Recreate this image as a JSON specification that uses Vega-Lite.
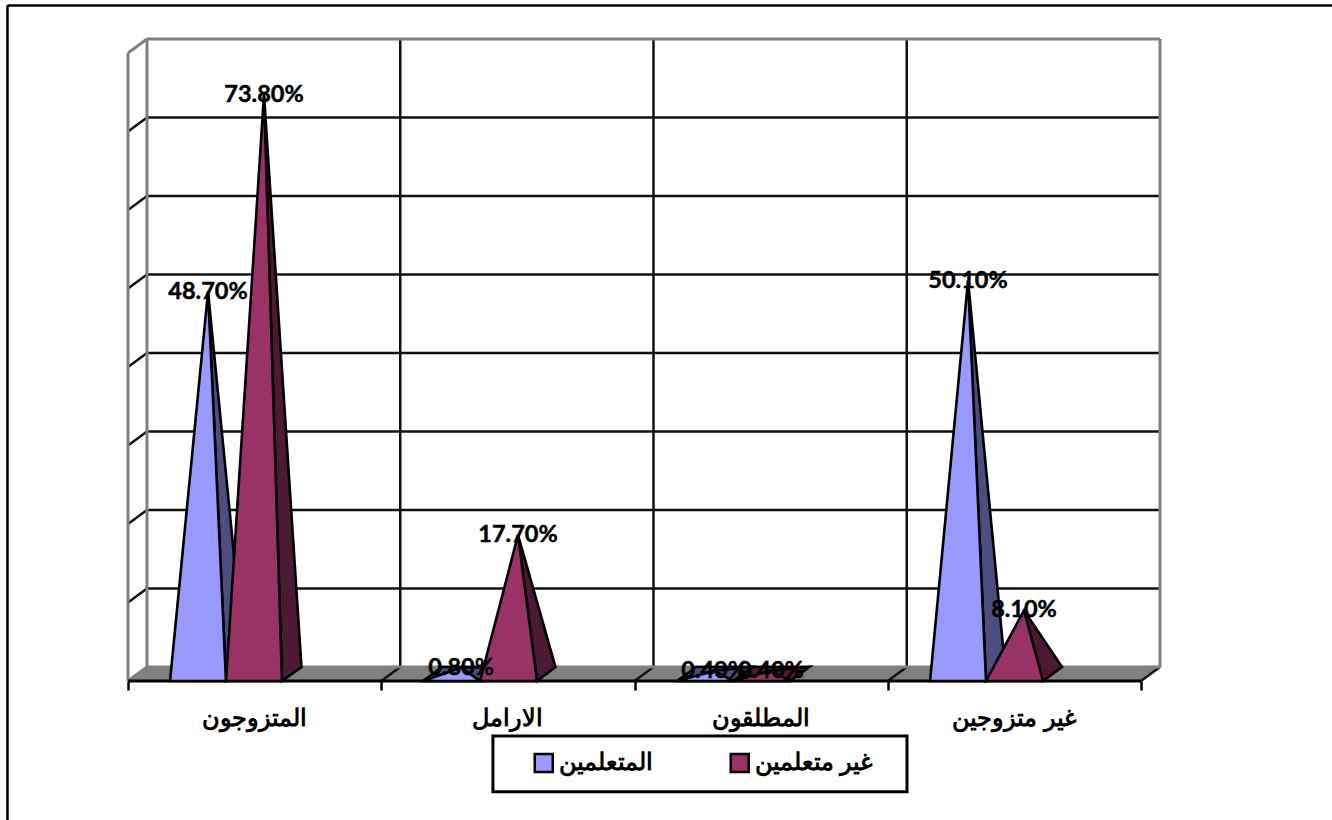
{
"$schema":"https://vega.github.io/schema/vega-lite/v6.json",
"width":1032,"height":642,
"autosize":{"type":"none"},
"padding":{"left":128,"top":39,"right":172,"bottom":139},
"background":"white",
"config":{"view":{"stroke":null}},
"datasets":{
"floor":[{"x":0,"y":-0.89,"y2":-0.89},{"x":0.075,"y":0.89,"y2":-0.89},{"x":4,"y":0.89,"y2":-0.89},{"x":4.075,"y":0.89,"y2":0.89}],
"walls":[
{"x":0.075,"y":0.89,"x2":0.075,"y2":80.89},{"x":4.075,"y":0.89,"x2":4.075,"y2":80.89},{"x":0.075,"y":80.89,"x2":4.075,"y2":80.89},{"x":0,"y":-0.89,"x2":0,"y2":79.11},{"x":0,"y":79.11,"x2":0.075,"y2":80.89},{"x":0,"y":-0.89,"x2":0.075,"y2":0.89},{"x":0.075,"y":0.89,"x2":4.075,"y2":0.89}],
"grid":[
{"x":0.075,"y":10.89,"x2":4.075,"y2":10.89},{"x":0.075,"y":20.89,"x2":4.075,"y2":20.89},{"x":0.075,"y":30.89,"x2":4.075,"y2":30.89},{"x":0.075,"y":40.89,"x2":4.075,"y2":40.89},{"x":0.075,"y":50.89,"x2":4.075,"y2":50.89},{"x":0.075,"y":60.89,"x2":4.075,"y2":60.89},{"x":0.075,"y":70.89,"x2":4.075,"y2":70.89},
{"x":0,"y":9.11,"x2":0.075,"y2":10.89},{"x":0,"y":19.11,"x2":0.075,"y2":20.89},{"x":0,"y":29.11,"x2":0.075,"y2":30.89},{"x":0,"y":39.11,"x2":0.075,"y2":40.89},{"x":0,"y":49.11,"x2":0.075,"y2":50.89},{"x":0,"y":59.11,"x2":0.075,"y2":60.89},{"x":0,"y":69.11,"x2":0.075,"y2":70.89},
{"x":1.075,"y":0.89,"x2":1.075,"y2":80.89},{"x":2.075,"y":0.89,"x2":2.075,"y2":80.89},{"x":3.075,"y":0.89,"x2":3.075,"y2":80.89},
{"x":1,"y":-0.89,"x2":1.075,"y2":0.89},{"x":2,"y":-0.89,"x2":2.075,"y2":0.89},{"x":3,"y":-0.89,"x2":3.075,"y2":0.89},{"x":4,"y":-0.89,"x2":4.075,"y2":0.89}],
"baseline":[{"x":0,"y":-0.89,"x2":4,"y2":-0.89}],
"frame":[{"x":-0.476,"y":-18.6,"x2":-0.476,"y2":85.16},{"x":-0.476,"y":85.16,"x2":4.78,"y2":85.16}],
"legendBox":[{"x":1.441,"x2":3.076,"y":-7.9,"y2":-15}],
"sides":[
{"face":"b2","series":"المتعلمين","x":1.165,"y":-0.89,"y2":-0.89},{"face":"b2","series":"المتعلمين","x":1.24,"y":0.89,"y2":-0.89},{"face":"b2","series":"المتعلمين","x":1.39,"y":0.89,"y2":-0.89},{"face":"b2","series":"المتعلمين","x":1.465,"y":0.89,"y2":0.89},
{"face":"b3","series":"المتعلمين","x":2.168,"y":-0.89,"y2":-0.89},{"face":"b3","series":"المتعلمين","x":2.243,"y":0.89,"y2":-0.89},{"face":"b3","series":"المتعلمين","x":2.389,"y":0.89,"y2":-0.89},{"face":"b3","series":"المتعلمين","x":2.464,"y":0.89,"y2":0.89},
{"face":"m3","series":"غير متعلمين","x":2.389,"y":-0.89,"y2":-0.89},{"face":"m3","series":"غير متعلمين","x":2.464,"y":0.89,"y2":-0.89},{"face":"m3","series":"غير متعلمين","x":2.614,"y":0.89,"y2":-0.89},{"face":"m3","series":"غير متعلمين","x":2.689,"y":0.89,"y2":0.89},
{"face":"s1b","series":"المتعلمين","x":0.316,"y":48.7,"y2":48.7},{"face":"s1b","series":"المتعلمين","x":0.387,"y":25.46,"y2":-0.89},{"face":"s1b","series":"المتعلمين","x":0.462,"y":0.89,"y2":0.89},
{"face":"s1m","series":"غير متعلمين","x":0.537,"y":73.8,"y2":73.8},{"face":"s1m","series":"غير متعلمين","x":0.608,"y":38.8,"y2":-0.89},{"face":"s1m","series":"غير متعلمين","x":0.685,"y":0.89,"y2":0.89},
{"face":"s2b","series":"المتعلمين","x":1.315,"y":0.8,"y2":0.8},{"face":"s2b","series":"المتعلمين","x":1.39,"y":0.85,"y2":-0.89},{"face":"s2b","series":"المتعلمين","x":1.465,"y":0.89,"y2":0.89},
{"face":"s2m","series":"غير متعلمين","x":1.54,"y":17.7,"y2":17.7},{"face":"s2m","series":"غير متعلمين","x":1.615,"y":9.18,"y2":-0.89},{"face":"s2m","series":"غير متعلمين","x":1.688,"y":0.89,"y2":0.89},
{"face":"s3b","series":"المتعلمين","x":2.314,"y":0.4,"y2":0.4},{"face":"s3b","series":"المتعلمين","x":2.389,"y":0.65,"y2":-0.89},{"face":"s3b","series":"المتعلمين","x":2.464,"y":0.89,"y2":0.89},
{"face":"s3m","series":"غير متعلمين","x":2.539,"y":0.4,"y2":0.4},{"face":"s3m","series":"غير متعلمين","x":2.614,"y":0.65,"y2":-0.89},{"face":"s3m","series":"غير متعلمين","x":2.689,"y":0.89,"y2":0.89},
{"face":"s4b","series":"المتعلمين","x":3.317,"y":50.1,"y2":50.1},{"face":"s4b","series":"المتعلمين","x":3.388,"y":26.18,"y2":-0.89},{"face":"s4b","series":"المتعلمين","x":3.463,"y":0.89,"y2":0.89},
{"face":"s4m","series":"غير متعلمين","x":3.538,"y":8.1,"y2":8.1},{"face":"s4m","series":"غير متعلمين","x":3.613,"y":4.5,"y2":-0.89},{"face":"s4m","series":"غير متعلمين","x":3.688,"y":0.89,"y2":0.89}],
"fronts":[
{"category":"المتزوجون","series":"المتعلمين","x":0.166,"y":-0.89,"y2":-0.89},{"category":"المتزوجون","series":"المتعلمين","x":0.316,"y":48.7,"y2":-0.89},{"category":"المتزوجون","series":"المتعلمين","x":0.387,"y":-0.89,"y2":-0.89},
{"category":"المتزوجون","series":"غير متعلمين","x":0.387,"y":-0.89,"y2":-0.89},{"category":"المتزوجون","series":"غير متعلمين","x":0.537,"y":73.8,"y2":-0.89},{"category":"المتزوجون","series":"غير متعلمين","x":0.608,"y":-0.89,"y2":-0.89},
{"category":"الارامل","series":"المتعلمين","x":1.165,"y":-0.89,"y2":-0.89},{"category":"الارامل","series":"المتعلمين","x":1.315,"y":0.8,"y2":-0.89},{"category":"الارامل","series":"المتعلمين","x":1.39,"y":-0.89,"y2":-0.89},
{"category":"الارامل","series":"غير متعلمين","x":1.39,"y":-0.89,"y2":-0.89},{"category":"الارامل","series":"غير متعلمين","x":1.54,"y":17.7,"y2":-0.89},{"category":"الارامل","series":"غير متعلمين","x":1.615,"y":-0.89,"y2":-0.89},
{"category":"المطلقون","series":"المتعلمين","x":2.168,"y":-0.89,"y2":-0.89},{"category":"المطلقون","series":"المتعلمين","x":2.314,"y":0.4,"y2":-0.89},{"category":"المطلقون","series":"المتعلمين","x":2.389,"y":-0.89,"y2":-0.89},
{"category":"المطلقون","series":"غير متعلمين","x":2.389,"y":-0.89,"y2":-0.89},{"category":"المطلقون","series":"غير متعلمين","x":2.539,"y":0.4,"y2":-0.89},{"category":"المطلقون","series":"غير متعلمين","x":2.614,"y":-0.89,"y2":-0.89},
{"category":"غير متزوجين","series":"المتعلمين","x":3.167,"y":-0.89,"y2":-0.89},{"category":"غير متزوجين","series":"المتعلمين","x":3.317,"y":50.1,"y2":-0.89},{"category":"غير متزوجين","series":"المتعلمين","x":3.388,"y":-0.89,"y2":-0.89},
{"category":"غير متزوجين","series":"غير متعلمين","x":3.388,"y":-0.89,"y2":-0.89},{"category":"غير متزوجين","series":"غير متعلمين","x":3.538,"y":8.1,"y2":-0.89},{"category":"غير متزوجين","series":"غير متعلمين","x":3.613,"y":-0.89,"y2":-0.89}],
"labels":[
{"category":"المتزوجون","series":"المتعلمين","x":0.316,"value":48.7,"label":"48.70%"},
{"category":"المتزوجون","series":"غير متعلمين","x":0.537,"value":73.8,"label":"73.80%"},
{"category":"الارامل","series":"المتعلمين","x":1.315,"value":0.8,"label":"0.80%"},
{"category":"الارامل","series":"غير متعلمين","x":1.54,"value":17.7,"label":"17.70%"},
{"category":"المطلقون","series":"المتعلمين","x":2.314,"value":0.4,"label":"0.40%"},
{"category":"المطلقون","series":"غير متعلمين","x":2.539,"value":0.4,"label":"0.40%"},
{"category":"غير متزوجين","series":"المتعلمين","x":3.317,"value":50.1,"label":"50.10%"},
{"category":"غير متزوجين","series":"غير متعلمين","x":3.538,"value":8.1,"label":"8.10%"}],
"categories":[{"category":"المتزوجون","x":0.5,"y":-5.75},{"category":"الارامل","x":1.5,"y":-5.75},{"category":"المطلقون","x":2.5,"y":-5.75},{"category":"غير متزوجين","x":3.5,"y":-5.75}]
},
"layer":[
{"data":{"name":"frame"},"mark":{"type":"rule","color":"black","strokeWidth":2.5},
 "encoding":{"x":{"field":"x","type":"quantitative","scale":{"domain":[0,4.075],"nice":false,"zero":false},"axis":{"title":null,"values":[0,1,2,3,4],"labels":false,"grid":false,"domain":false,"ticks":true,"tickSize":9,"tickWidth":2.5,"tickColor":"black"}},"y":{"field":"y","type":"quantitative","scale":{"domain":[-0.89,80.89],"nice":false,"zero":false},"axis":null},"x2":{"field":"x2"},"y2":{"field":"y2"}}},
{"data":{"name":"floor"},"mark":{"type":"area","color":"#808080","orient":"vertical"},
 "encoding":{"x":{"field":"x","type":"quantitative"},"y":{"field":"y","type":"quantitative","stack":null},"y2":{"field":"y2"}}},
{"data":{"name":"grid"},"mark":{"type":"rule","color":"#111111","strokeWidth":2.5},
 "encoding":{"x":{"field":"x","type":"quantitative"},"y":{"field":"y","type":"quantitative"},"x2":{"field":"x2"},"y2":{"field":"y2"}}},
{"data":{"name":"walls"},"mark":{"type":"rule","color":"#808080","strokeWidth":3},
 "encoding":{"x":{"field":"x","type":"quantitative"},"y":{"field":"y","type":"quantitative"},"x2":{"field":"x2"},"y2":{"field":"y2"}}},
{"data":{"name":"baseline"},"mark":{"type":"rule","color":"black","strokeWidth":3},
 "encoding":{"x":{"field":"x","type":"quantitative"},"y":{"field":"y","type":"quantitative"},"x2":{"field":"x2"},"y2":{"field":"y2"}}},
{"data":{"name":"sides"},"mark":{"type":"area","stroke":"black","strokeWidth":2.6,"orient":"vertical","fillOpacity":1},
 "encoding":{"x":{"field":"x","type":"quantitative"},"y":{"field":"y","type":"quantitative","stack":null},"y2":{"field":"y2"},"detail":{"field":"face"},
 "color":{"field":"series","type":"nominal","scale":{"domain":["المتعلمين","غير متعلمين"],"range":["#4d4d80","#4d1a33"]},"legend":null}}},
{"data":{"name":"fronts"},"mark":{"type":"area","stroke":"black","strokeWidth":2.6,"orient":"vertical","fillOpacity":1},
 "encoding":{"x":{"field":"x","type":"quantitative"},"y":{"field":"y","type":"quantitative","stack":null},"y2":{"field":"y2"},"detail":{"field":"category"},
 "color":{"field":"series","type":"nominal","scale":{"domain":["المتعلمين","غير متعلمين"],"range":["#9999ff","#993366"]},
 "legend":{"title":null,"orient":"none","legendX":404,"legendY":712,"direction":"horizontal","columns":2,"symbolType":"square","symbolSize":324,"symbolStrokeColor":"black","symbolStrokeWidth":2.5,"symbolOpacity":1,"labelFont":"Liberation Sans","labelFontSize":23.5,"labelFontWeight":"bold","labelColor":"black","labelOffset":3,"columnPadding":72,"labelLimit":300}}}},
{"data":{"name":"labels"},"mark":{"type":"text","font":"Lato","fontWeight":"bold","fontSize":23.5,"color":"black","stroke":"black","strokeWidth":0.5,"align":"center","baseline":"middle"},
 "encoding":{"x":{"field":"x","type":"quantitative"},"y":{"field":"value","type":"quantitative"},"text":{"field":"label"}}},
{"data":{"name":"categories"},"mark":{"type":"text","font":"Liberation Sans","fontWeight":"bold","fontSize":24,"color":"black","align":"center","baseline":"middle"},
 "encoding":{"x":{"field":"x","type":"quantitative"},"y":{"field":"y","type":"quantitative"},"text":{"field":"category"}}},
{"data":{"name":"legendBox"},"mark":{"type":"rect","fill":null,"stroke":"black","strokeWidth":3},
 "encoding":{"x":{"field":"x","type":"quantitative"},"x2":{"field":"x2"},"y":{"field":"y","type":"quantitative"},"y2":{"field":"y2"}}}
],
"resolve":{"scale":{"color":"independent"}}
}
